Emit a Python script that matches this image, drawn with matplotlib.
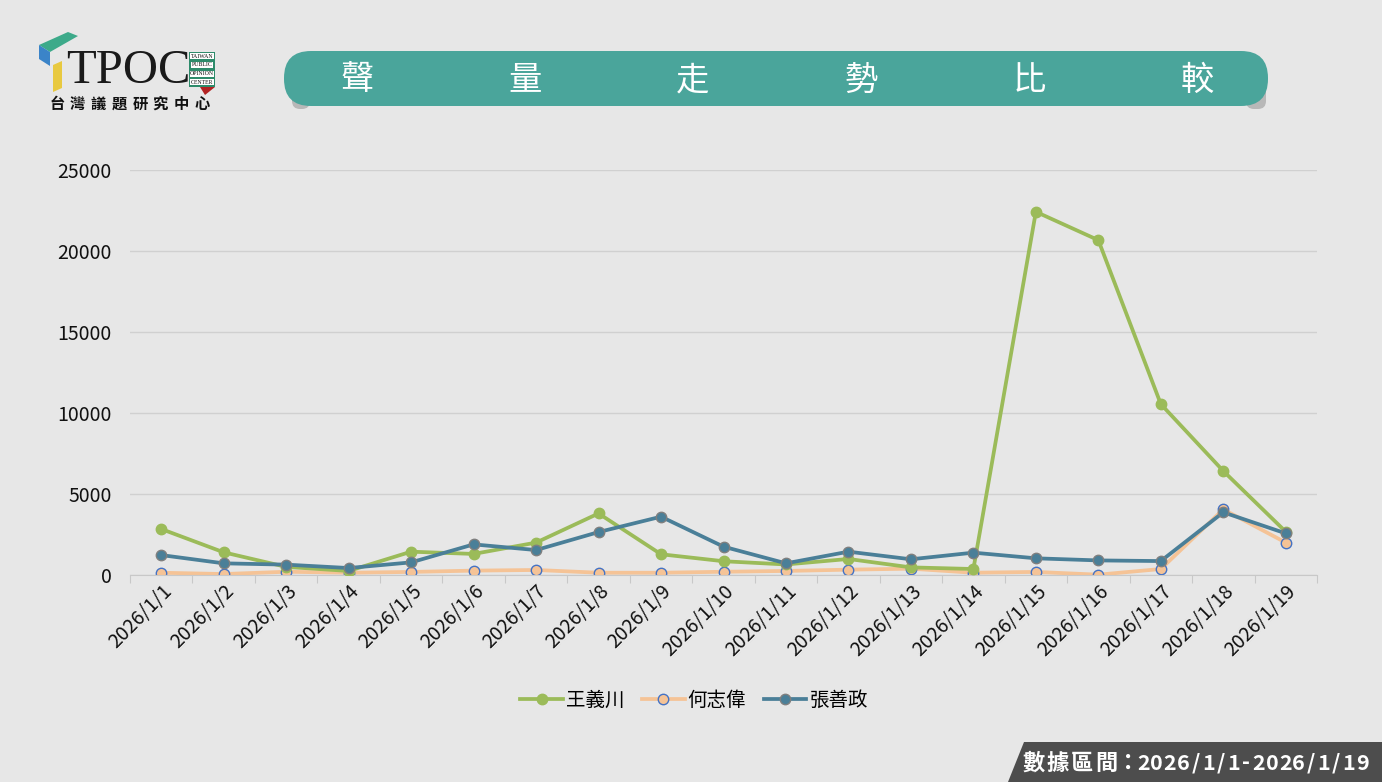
import matplotlib.pyplot as plt
from matplotlib.patches import FancyBboxPatch, Polygon, Rectangle

plt.rcParams['font.family'] = ['Noto Sans CJK TC', 'DejaVu Sans']

# 資料
dates = ["2026/1/%d" % d for d in range(1, 20)]
wang = [2840, 1400, 500, 250, 1440, 1300, 2000, 3800, 1280, 850,
        650, 990, 470, 370, 22420, 20670, 10550, 6420, 2670]
he = [140, 60, 200, 140, 190, 270, 310, 140, 140, 200,
      250, 330, 390, 140, 190, 20, 370, 4050, 2000]
zhang = [1230, 720, 640, 430, 780, 1890, 1540, 2650, 3600, 1750,
         720, 1440, 970, 1380, 1030, 900, 860, 3870, 2570]
names = ["王義川", "何志偉", "張善政"]
title_chars = ["聲", "量", "走", "勢", "比", "較"]
logo_sub = "台灣議題研究中心"
period = "數據區間：2026/1/1-2026/1/19"
yticks = [0, 5000, 10000, 15000, 20000, 25000]

BG = "#E7E7E7"
GREEN = "#9BBB59"
ORANGE = "#F5C396"
BLUE = "#4A7F98"
TEAL = "#4AA59B"

W, H = 1382, 782
fig = plt.figure(figsize=(W / 100, H / 100), dpi=100)
fig.patch.set_facecolor(BG)

# 主圖
ax = fig.add_axes([130 / W, 1 - 575 / H, (1317 - 130) / W, (575 - 170) / H])
ax.set_facecolor(BG)
x = range(len(dates))
ax.plot(x, wang, color=GREEN, lw=2.7, marker="o", ms=7.5, mfc=GREEN, mec=GREEN,
        label=names[0], zorder=3)
ax.plot(x, he, color=ORANGE, lw=2.7, marker="o", ms=7.5, mfc=ORANGE, mec="#4472C4",
        mew=1.0, label=names[1], zorder=2)
ax.plot(x, zhang, color=BLUE, lw=2.7, marker="o", ms=7.5, mfc=BLUE, mec="#7F7F7F",
        mew=1.0, label=names[2], zorder=4)

ax.set_xlim(-0.5, len(dates) - 0.5)
ax.set_ylim(0, 25000)
ax.set_yticks(yticks)
ax.set_yticklabels([str(v) for v in yticks], fontsize=14, color="#111111")
ax.grid(axis="y", color="#D0D0D0", lw=1)
ax.set_axisbelow(True)
for s in ["top", "right", "left"]:
    ax.spines[s].set_visible(False)
ax.spines["bottom"].set_color("#C8C8C8")
ax.tick_params(axis="y", length=0, pad=13)
ax.set_xticks([i + 0.5 for i in range(-1, len(dates))], minor=False)
ax.set_xticklabels([])
ax.set_xticks(list(x), minor=True)
ax.set_xticklabels(dates, minor=True, rotation=45, ha="right",
                   rotation_mode="anchor", fontsize=14, color="#111111")
ax.tick_params(axis="x", which="major", length=6, color="#C8C8C8")
ax.tick_params(axis="x", which="minor", length=0, pad=4)

ax.legend(loc="center", bbox_to_anchor=(694 / W, 1 - 700 / H),
          bbox_transform=fig.transFigure, ncol=3, frameon=False,
          fontsize=14, handlelength=2.2, columnspacing=0.9, handletextpad=0.15)

# 裝飾層 (像素座標)
deco = fig.add_axes([0, 0, 1, 1], zorder=-1)
deco.set_xlim(0, W)
deco.set_ylim(H, 0)
deco.axis("off")
deco.patch.set_alpha(0)

# 標題橫幅
deco.add_patch(FancyBboxPatch((292, 62), 18, 47, boxstyle="round,pad=0,rounding_size=8",
                              fc="#8A8A8A", ec="none", alpha=0.5))
deco.add_patch(FancyBboxPatch((1246, 62), 20, 47, boxstyle="round,pad=0,rounding_size=8",
                              fc="#8A8A8A", ec="none", alpha=0.5))
deco.add_patch(FancyBboxPatch((284, 51), 984, 55, boxstyle="round,pad=0,rounding_size=27",
                              fc=TEAL, ec="none"))
for i, ch in enumerate(title_chars):
    deco.text(357 + i * 168, 80, ch, color="white", fontsize=24, ha="center",
              va="center")

# 標誌
deco.add_patch(Polygon([(39, 45), (68, 32), (78, 36), (50, 52)], fc="#3DAA8A", ec="none"))
deco.add_patch(Polygon([(39, 45), (50, 52), (50, 66), (39, 59)], fc="#3B84C8", ec="none"))
deco.add_patch(Polygon([(53, 65), (62, 61), (62, 88), (53, 92)], fc="#E8C940", ec="none"))
deco.text(66, 71, "TPOC", family="Liberation Serif", fontsize=35, color="#1A1A1A",
          ha="left", va="center")
deco.add_patch(Rectangle((189, 52), 26, 35, fc="#2E8B6B", ec="none"))
deco.add_patch(Polygon([(200, 87), (215, 87), (205, 95)], fc="#B22222", ec="none"))
for j, w in enumerate(["TAIWAN", "PUBLIC", "OPINION", "CENTER"]):
    deco.text(202, 56 + j * 8.8, w, family="Liberation Serif", fontsize=4.2,
              color="#111111", ha="center", va="center",
              bbox=dict(fc="white", ec="none", pad=0.3))
for k, ch in enumerate(logo_sub):
    deco.text(57 + k * 20.7, 104, ch, fontsize=11, color="#111111", ha="center",
              va="center", fontweight="bold")

# 數據區間
deco.add_patch(Polygon([(1008, 782), (1024, 742), (1382, 742), (1382, 782)],
                       fc="#4D4D4D", ec="none"))
px = 1021
for ch in period:
    if ord(ch) > 0x2E80:
        adv = 24.5 if ch != "：" else 18
        fs = 16
    else:
        adv = 13.2 if ch.isdigit() else 12.0
        fs = 15.5
    deco.text(px + adv / 2, 763, ch, color="white", fontsize=fs,
              fontweight="bold", ha="center", va="center")
    px += adv

fig.savefig("out.png", dpi=100, facecolor=BG)
